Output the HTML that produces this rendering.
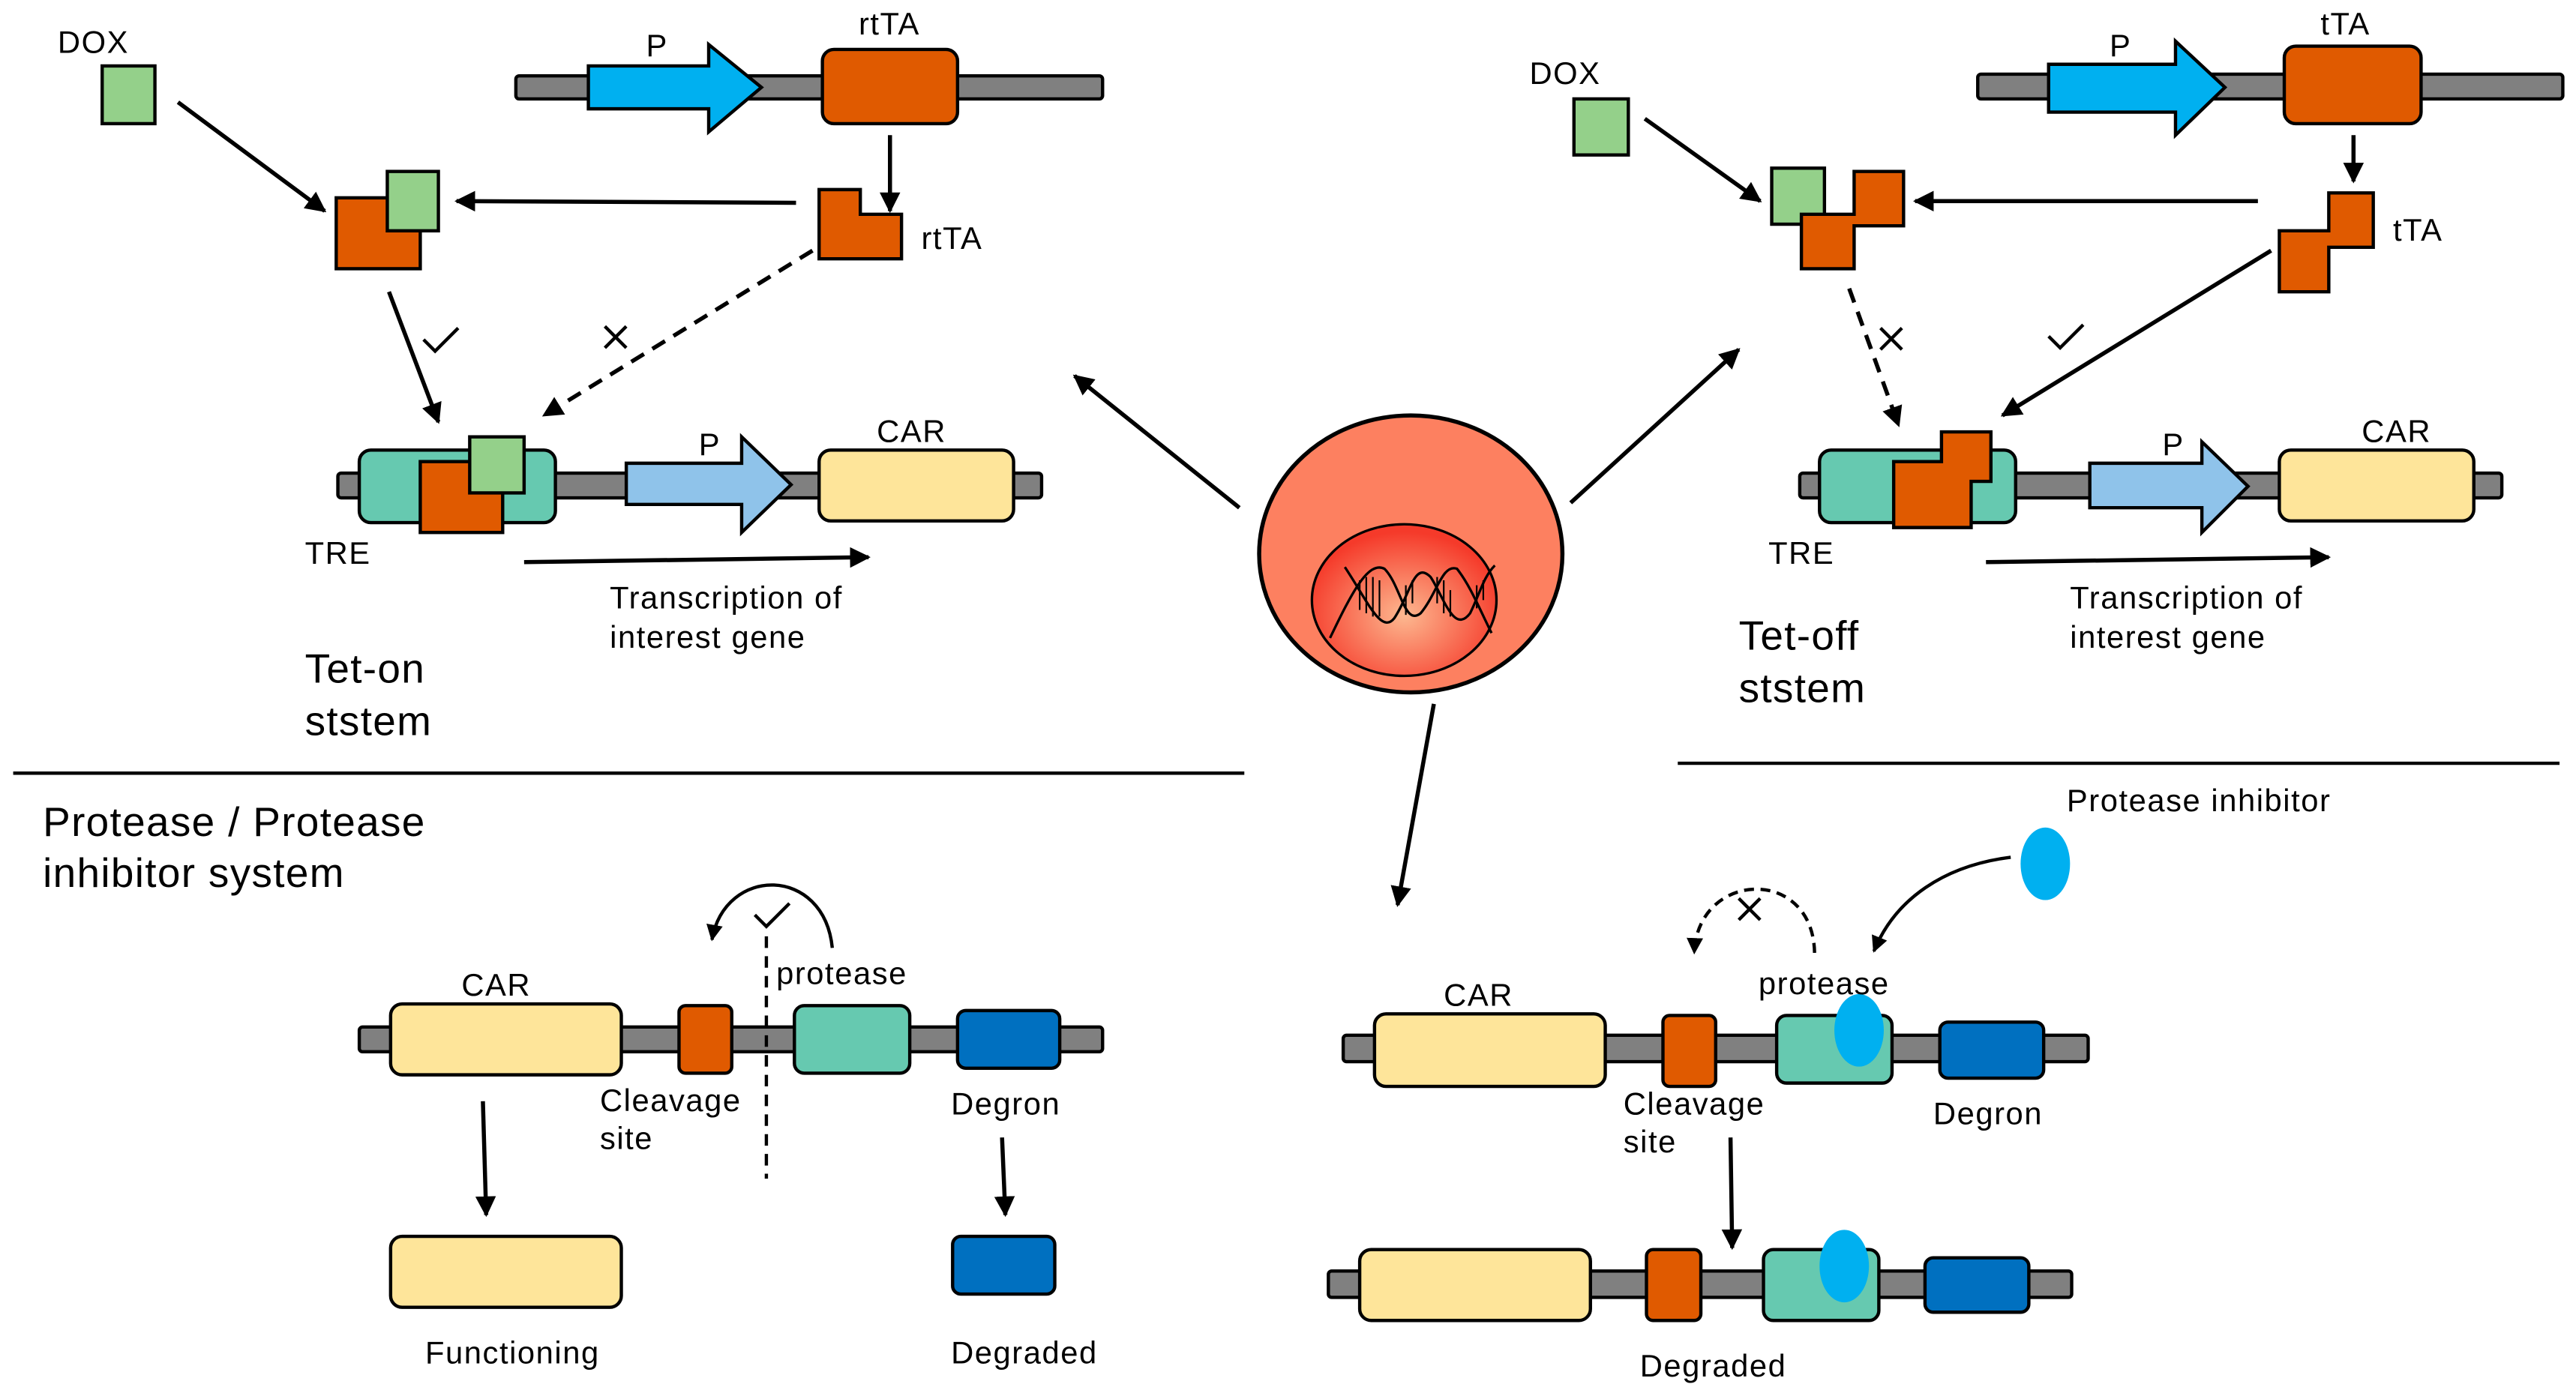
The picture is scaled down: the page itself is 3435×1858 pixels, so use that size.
<!DOCTYPE html>
<html><head><meta charset="utf-8"><style>
html,body{margin:0;padding:0;background:#fff;}
svg{display:block;}
text{font-family:"Liberation Sans","DejaVu Sans",sans-serif;fill:#000;}
.l{font-size:19px;letter-spacing:0.7px;}
.t{font-size:25px;letter-spacing:0.6px;}
</style></head><body>
<svg width="3435" height="1858" viewBox="0 0 1563 845" preserveAspectRatio="none" xmlns="http://www.w3.org/2000/svg">
<defs>
<marker id="a" viewBox="0 0 10 10" refX="9" refY="5" markerWidth="5" markerHeight="5" orient="auto"><path d="M0,0L10,5L0,10z" fill="#000"/></marker>
<radialGradient id="g" cx="50%" cy="60%" r="55%"><stop offset="0" stop-color="#fdb890"/><stop offset="1" stop-color="#f53a2a"/></radialGradient>
</defs>
<g stroke="#000" stroke-width="2">
<rect x="313" y="46" width="356" height="14" rx="2" fill="#808080"/>
<polygon points="357,40 430,40 430,27 462,53 430,80 430,66 357,66" fill="#00b0f0"/>
<rect x="499" y="30" width="82" height="45" rx="7" fill="#e05a00"/>
<rect x="62" y="40" width="32" height="35" fill="#94d08a"/>
<polygon points="497,115 522,115 522,130 547,130 547,157 497,157" fill="#e05a00"/>
<rect x="204" y="120" width="51" height="43" fill="#e05a00"/>
<rect x="235" y="104" width="31" height="36" fill="#94d08a"/>
<rect x="205" y="287" width="427" height="15" rx="2" fill="#808080"/>
<rect x="218" y="273" width="119" height="44" rx="7" fill="#66c9b0"/>
<rect x="255" y="280" width="50" height="43" fill="#e05a00"/>
<rect x="285" y="265" width="33" height="34" fill="#94d08a"/>
<polygon points="380,281 450,281 450,265 480,294 450,323 450,306 380,306" fill="#8fc3ea"/>
<rect x="497" y="273" width="118" height="43" rx="7" fill="#fee59a"/>
</g>
<g stroke="#000" stroke-width="2.5" fill="none">
<line x1="540" y1="82" x2="540" y2="128" marker-end="url(#a)"/>
<line x1="483" y1="123" x2="277" y2="122" marker-end="url(#a)"/>
<line x1="108" y1="62" x2="197" y2="128" marker-end="url(#a)"/>
<line x1="236" y1="177" x2="266" y2="256" marker-end="url(#a)"/>
<line x1="493" y1="152" x2="330" y2="252" stroke-dasharray="9,6" marker-end="url(#a)"/>
<line x1="318" y1="341" x2="527" y2="338" marker-end="url(#a)"/>
<path d="M257,206 l7,7 l14,-14" stroke-width="2"/>
<path d="M367,198 l13,13 M380,198 l-13,13" stroke-width="2"/>
</g>
<text class="l" x="35" y="32">DOX</text>
<text class="l" x="392" y="34">P</text>
<text class="l" x="521" y="21">rtTA</text>
<text class="l" x="559" y="151">rtTA</text>
<text class="l" x="424" y="276">P</text>
<text class="l" x="532" y="268">CAR</text>
<text class="l" x="185" y="342">TRE</text>
<text class="l" x="370" y="369">Transcription of</text>
<text class="l" x="370" y="393">interest gene</text>
<text class="t" x="185" y="414">Tet-on</text>
<text class="t" x="185" y="446">ststem</text>

<g stroke="#000" stroke-width="2">
<rect x="1200" y="45" width="355" height="15" rx="2" fill="#808080"/>
<polygon points="1243,39 1320,39 1320,25 1350,53 1320,82 1320,68 1243,68" fill="#00b0f0"/>
<rect x="1386" y="28" width="83" height="47" rx="7" fill="#e05a00"/>
<rect x="955" y="60" width="33" height="34" fill="#94d08a"/>
<polygon points="1413,117 1440,117 1440,150 1413,150 1413,177 1383,177 1383,140 1413,140" fill="#e05a00"/>
<rect x="1075" y="102" width="32" height="34" fill="#94d08a"/>
<polygon points="1125,104 1155,104 1155,137 1125,137 1125,163 1093,163 1093,130 1125,130" fill="#e05a00"/>
<rect x="1092" y="287" width="426" height="15" rx="2" fill="#808080"/>
<rect x="1104" y="273" width="119" height="44" rx="7" fill="#66c9b0"/>
<polygon points="1178,262 1208,262 1208,292 1196,292 1196,320 1149,320 1149,280 1178,280" fill="#e05a00"/>
<polygon points="1268,281 1336,281 1336,268 1364,295 1336,323 1336,308 1268,308" fill="#8fc3ea"/>
<rect x="1383" y="273" width="118" height="43" rx="7" fill="#fee59a"/>
</g>
<g stroke="#000" stroke-width="2.5" fill="none">
<line x1="1428" y1="82" x2="1428" y2="110" marker-end="url(#a)"/>
<line x1="1370" y1="122" x2="1162" y2="122" marker-end="url(#a)"/>
<line x1="998" y1="72" x2="1068" y2="122" marker-end="url(#a)"/>
<line x1="1122" y1="175" x2="1152" y2="258" stroke-dasharray="9,6" marker-end="url(#a)"/>
<line x1="1378" y1="152" x2="1215" y2="252" marker-end="url(#a)"/>
<line x1="1205" y1="341" x2="1413" y2="338" marker-end="url(#a)"/>
<path d="M1243,204 l7,7 l14,-14" stroke-width="2"/>
<path d="M1141,199 l13,13 M1154,199 l-13,13" stroke-width="2"/>
</g>
<text class="l" x="928" y="51">DOX</text>
<text class="l" x="1280" y="34">P</text>
<text class="l" x="1408" y="21">tTA</text>
<text class="l" x="1452" y="146">tTA</text>
<text class="l" x="1312" y="276">P</text>
<text class="l" x="1433" y="268">CAR</text>
<text class="l" x="1073" y="342">TRE</text>
<text class="l" x="1256" y="369">Transcription of</text>
<text class="l" x="1256" y="393">interest gene</text>
<text class="t" x="1055" y="394">Tet-off</text>
<text class="t" x="1055" y="426">ststem</text>

<ellipse cx="856" cy="336" rx="92" ry="84" fill="#fd8060" stroke="#000" stroke-width="2.5"/>
<ellipse cx="852" cy="364" rx="56" ry="46" fill="url(#g)" stroke="#000" stroke-width="1.5"/>
<g stroke="#000" stroke-width="1.5" fill="none">
<path d="M807,387 C820,360 830,340 840,345 C850,355 852,380 862,372 C872,360 875,342 884,345 C892,355 898,370 905,384"/>
<path d="M816,344 C830,365 838,385 846,375 C856,360 858,340 868,350 C876,362 882,385 892,372 C898,360 900,350 907,343"/>
<path d="M825,352v18M829,350v22M833,350v24M837,352v22M853,355v18M857,352v14M872,350v16M876,352v20M880,358v16M896,355v14M900,352v12" stroke-width="1"/>
</g>
<g stroke="#000" stroke-width="2.5" fill="none">
<line x1="752" y1="308" x2="652" y2="228" marker-end="url(#a)"/>
<line x1="953" y1="305" x2="1055" y2="212" marker-end="url(#a)"/>
<line x1="870" y1="427" x2="848" y2="549" marker-end="url(#a)"/>
<line x1="8" y1="469" x2="755" y2="469" stroke-width="2"/>
<line x1="1018" y1="463" x2="1553" y2="463" stroke-width="2"/>
</g>

<text class="t" x="26" y="507">Protease / Protease</text>
<text class="t" x="26" y="538">inhibitor system</text>
<g stroke="#000" stroke-width="2">
<rect x="218" y="623" width="451" height="15" rx="2" fill="#808080"/>
<rect x="237" y="609" width="140" height="43" rx="7" fill="#fee59a"/>
<rect x="412" y="610" width="32" height="41" rx="4" fill="#e05a00"/>
<rect x="482" y="610" width="70" height="41" rx="6" fill="#66c9b0"/>
<rect x="581" y="613" width="62" height="35" rx="5" fill="#0070c0"/>
<rect x="237" y="750" width="140" height="43" rx="7" fill="#fee59a"/>
<rect x="578" y="750" width="62" height="35" rx="5" fill="#0070c0"/>
</g>
<g stroke="#000" stroke-width="2.5" fill="none">
<line x1="465" y1="568" x2="465" y2="715" stroke-dasharray="7,5" stroke-width="2"/>
<path d="M505,575 C500,525 440,525 432,570" marker-end="url(#a)" stroke-width="2"/>
<path d="M458,555 l7,7 l14,-14" stroke-width="2"/>
<line x1="293" y1="668" x2="295" y2="737" marker-end="url(#a)"/>
<line x1="608" y1="690" x2="610" y2="737" marker-end="url(#a)"/>
</g>
<text class="l" x="280" y="604">CAR</text>
<text class="l" x="471" y="597">protease</text>
<text class="l" x="364" y="674">Cleavage</text>
<text class="l" x="364" y="697">site</text>
<text class="l" x="577" y="676">Degron</text>
<text class="l" x="258" y="827">Functioning</text>
<text class="l" x="577" y="827">Degraded</text>

<g stroke="#000" stroke-width="2">
<rect x="815" y="628" width="452" height="16" rx="2" fill="#808080"/>
<rect x="834" y="615" width="140" height="44" rx="7" fill="#fee59a"/>
<rect x="1009" y="616" width="32" height="43" rx="4" fill="#e05a00"/>
<rect x="1078" y="616" width="70" height="41" rx="6" fill="#66c9b0"/>
<rect x="1177" y="620" width="63" height="34" rx="5" fill="#0070c0"/>
<rect x="806" y="771" width="451" height="16" rx="2" fill="#808080"/>
<rect x="825" y="758" width="140" height="43" rx="7" fill="#fee59a"/>
<rect x="999" y="758" width="33" height="43" rx="4" fill="#e05a00"/>
<rect x="1070" y="758" width="70" height="43" rx="6" fill="#66c9b0"/>
<rect x="1168" y="763" width="63" height="33" rx="5" fill="#0070c0"/>
</g>
<ellipse cx="1128" cy="625" rx="15" ry="22" fill="#00b0f0"/>
<ellipse cx="1119" cy="768" rx="15" ry="22" fill="#00b0f0"/>
<ellipse cx="1241" cy="524" rx="15" ry="22" fill="#00b0f0"/>
<g stroke="#000" stroke-width="2" fill="none">
<path d="M1101,578 C1100,525 1030,528 1028,578" stroke-dasharray="6,4" marker-end="url(#a)"/>
<path d="M1055,545 l13,13 M1068,545 l-13,13"/>
<path d="M1220,520 C1180,525 1150,545 1137,577" marker-end="url(#a)"/>
<line x1="1050" y1="690" x2="1051" y2="757" marker-end="url(#a)" stroke-width="2.5"/>
</g>
<text class="l" x="1254" y="492">Protease inhibitor</text>
<text class="l" x="876" y="610">CAR</text>
<text class="l" x="1067" y="603">protease</text>
<text class="l" x="985" y="676">Cleavage</text>
<text class="l" x="985" y="699">site</text>
<text class="l" x="1173" y="682">Degron</text>
<text class="l" x="995" y="835">Degraded</text>
</svg>
</body></html>
